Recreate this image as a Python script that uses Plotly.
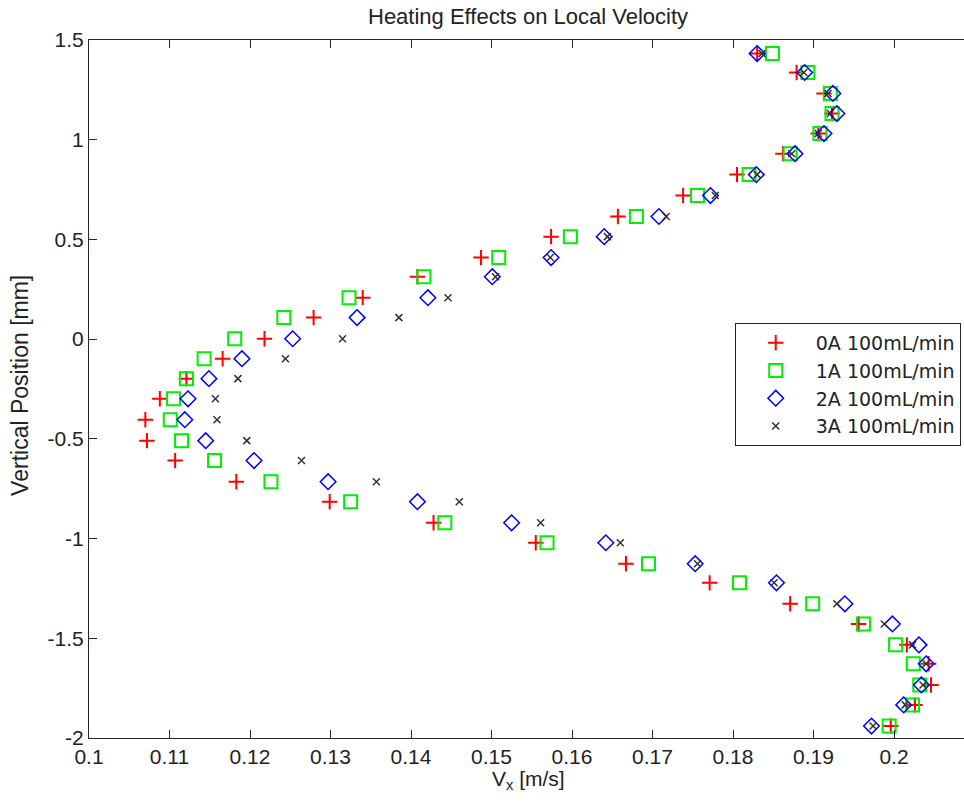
import plotly.graph_objects as go

# Vertical position [mm]
y_pos = [1.432, 1.337, 1.232, 1.131, 1.031, 0.930, 0.825, 0.720, 0.615, 0.514,
         0.409, 0.313, 0.208, 0.108, 0.002, -0.098, -0.198, -0.299, -0.404, -0.509,
         -0.609, -0.715, -0.815, -0.921, -1.021, -1.126, -1.222, -1.327, -1.428, -1.533,
         -1.628, -1.734, -1.834, -1.940]

# Local velocity Vx [m/s]
v_0A = [0.1830, 0.1879, 0.1913, 0.1923, 0.1906, 0.1862, 0.1805, 0.1738, 0.1657, 0.1574,
        0.1487, 0.1408, 0.1340, 0.1279, 0.1218, 0.1166, 0.1121, 0.1088, 0.1070, 0.1072,
        0.1107, 0.1183, 0.1299, 0.1428, 0.1555, 0.1667, 0.1771, 0.1871, 0.1956, 0.2016,
        0.2043, 0.2046, 0.2026, 0.1996]
v_1A = [0.1849, 0.1893, 0.1921, 0.1923, 0.1908, 0.1871, 0.1820, 0.1756, 0.1680, 0.1598,
        0.1509, 0.1416, 0.1323, 0.1242, 0.1181, 0.1143, 0.1121, 0.1105, 0.1101, 0.1115,
        0.1156, 0.1226, 0.1325, 0.1442, 0.1569, 0.1695, 0.1808, 0.1899, 0.1962, 0.2002,
        0.2024, 0.2032, 0.2023, 0.1994]
v_2A = [0.1830, 0.1889, 0.1924, 0.1929, 0.1913, 0.1877, 0.1829, 0.1772, 0.1708, 0.1640,
        0.1574, 0.1501, 0.1421, 0.1333, 0.1253, 0.1190, 0.1149, 0.1123, 0.1119, 0.1145,
        0.1205, 0.1297, 0.1408, 0.1525, 0.1642, 0.1753, 0.1854, 0.1939, 0.1998, 0.2031,
        0.2040, 0.2034, 0.2012, 0.1972]
v_3A = [0.1836, 0.1888, 0.1918, 0.1921, 0.1906, 0.1873, 0.1830, 0.1778, 0.1717, 0.1644,
        0.1573, 0.1505, 0.1446, 0.1385, 0.1315, 0.1244, 0.1185, 0.1157, 0.1159, 0.1196,
        0.1264, 0.1357, 0.1460, 0.1561, 0.1660, 0.1756, 0.1851, 0.1929, 0.1988, 0.2023,
        0.2040, 0.2036, 0.2014, 0.1974]

series_names = ["0A 100mL/min", "1A 100mL/min", "2A 100mL/min", "3A 100mL/min"]
x_ticks = [0.1, 0.11, 0.12, 0.13, 0.14, 0.15, 0.16, 0.17, 0.18, 0.19, 0.2]
x_tick_text = ["0.1", "0.11", "0.12", "0.13", "0.14", "0.15", "0.16", "0.17", "0.18", "0.19", "0.2"]
y_ticks = [-2, -1.5, -1, -0.5, 0, 0.5, 1, 1.5]
y_tick_text = ["-2", "-1.5", "-1", "-0.5", "0", "0.5", "1", "1.5"]

FONT = "Liberation Sans, Arial, sans-serif"
AXC = "#262626"
TXT = "#222222"

styles = [
    dict(symbol="cross-thin-open", size=11, color="#ff0000", line=dict(color="#ff0000", width=2)),
    dict(symbol="square-open", size=13, color="#00ee00", line=dict(color="#00ee00", width=2)),
    dict(symbol="diamond-open", size=12, color="#0000ff", line=dict(color="#0000ff", width=1.5)),
    dict(symbol="x-thin-open", size=7, color="#333333", line=dict(color="#333333", width=1.5)),
]

fig = go.Figure()
for name, vals, st in zip(series_names, [v_0A, v_1A, v_2A, v_3A], styles):
    fig.add_trace(go.Scatter(x=vals, y=y_pos, mode="markers", name=name, marker=st))

fig.update_layout(
    width=964, height=802,
    margin=dict(l=89, r=0, t=40, b=64),
    paper_bgcolor="white", plot_bgcolor="white",
    showlegend=True,
    legend=dict(x=0.738, y=0.5946, xanchor="left", yanchor="top",
                bgcolor="white", bordercolor=AXC, borderwidth=1,
                font=dict(family="DejaVu Sans, Verdana, sans-serif", size=19, color=TXT),
                itemwidth=70),
    annotations=[
        dict(text="Heating Effects on Local Velocity", xref="paper", yref="paper",
             x=0.502, y=1.034, showarrow=False, xanchor="center", yanchor="middle",
             font=dict(family=FONT, size=22, color=TXT)),
        dict(text="V<sub>x</sub> [m/s]", xref="paper", yref="paper",
             x=0.502, y=-0.06, showarrow=False, xanchor="center", yanchor="middle",
             font=dict(family=FONT, size=21, color=TXT)),
        dict(text="Vertical Position [mm]", xref="paper", yref="paper",
             x=-0.079, y=0.5057, showarrow=False, xanchor="center", yanchor="middle",
             textangle=-90, font=dict(family=FONT, size=23, color=TXT)),
    ],
)
fig.update_xaxes(range=[0.1, 0.1 + 875 / 8050], tickvals=x_ticks, ticktext=x_tick_text,
                 showgrid=False, zeroline=False, showline=True, linecolor=AXC, linewidth=1,
                 mirror="ticks", ticks="inside", ticklen=8, tickcolor=AXC,
                 tickfont=dict(family=FONT, size=21, color=TXT))
fig.update_yaxes(range=[-2, 1.5], tickvals=y_ticks, ticktext=y_tick_text,
                 showgrid=False, zeroline=False, showline=True, linecolor=AXC, linewidth=1,
                 mirror=False, ticks="inside", ticklen=8, tickcolor=AXC,
                 tickfont=dict(family=FONT, size=21, color=TXT))

fig.write_html("out.html")
